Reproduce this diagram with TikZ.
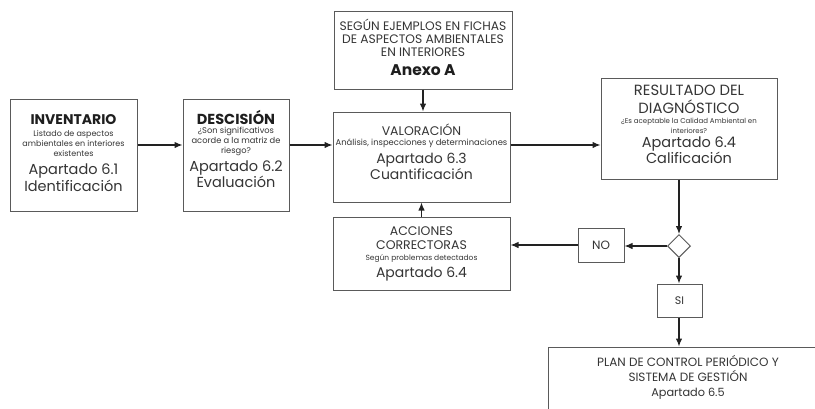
\documentclass[tikz,border=0pt]{standalone}
\usepackage{fontspec}
\setmainfont{Poppins}
\usetikzlibrary{arrows.meta,shapes.geometric}
\definecolor{boxc}{HTML}{5A5A5A}
\definecolor{txtc}{HTML}{353535}
\definecolor{ttlc}{HTML}{1E1E1E}
\definecolor{arrc}{HTML}{222222}
\newcommand{\fsz}[2]{\fontsize{#1}{#2}\selectfont}
\begin{document}
\begin{tikzpicture}[x=1pt,y=-1pt,
  box/.style={draw=boxc, line width=1pt, rectangle, inner sep=0pt},
  lbl/.style={text=txtc, align=center, inner sep=0pt, anchor=north},
  ttl/.style={lbl, text=ttlc},
  arr/.style={draw=arrc, line width=1.2pt, -{Latex[length=8pt,width=6.5pt]}}]
\useasboundingbox (0,0) rectangle (815,408);
\clip (0,0) rectangle (815,408);
\fill[white] (0,0) rectangle (815,408);

% boxes
\node[box, minimum width=127pt, minimum height=112pt] (inv) at (73.5,155) {};
\node[box, minimum width=106pt, minimum height=112pt] (dec) at (236,155) {};
\node[box, minimum width=178pt, minimum height=78pt] (seg) at (423,50) {};
\node[box, minimum width=177pt, minimum height=90pt] (val) at (421.5,157) {};
\node[box, minimum width=177pt, minimum height=73pt] (acc) at (421.5,253.5) {};
\node[box, minimum width=176pt, minimum height=101pt] (res) at (689,128.5) {};
\node[draw=boxc, line width=1pt, diamond, aspect=1, inner sep=0pt, minimum width=23pt, minimum height=23pt] (dia) at (679,246) {};
\node[box, minimum width=46pt, minimum height=34pt, text=txtc, font=\fsz{12}{14}] (no) at (601,245) {NO};
\node[box, minimum width=45pt, minimum height=33pt, text=txtc, font=\fsz{11}{13}] (si) at (679.5,300.5) {SI};
\node[box, minimum width=280pt, minimum height=100pt] (plan) at (688,397) {};

% texts: INVENTARIO
\node[ttl, font=\bfseries\fsz{14}{15}] (invt) at (73.5,114.5) {INVENTARIO};
\node[lbl, font=\fsz{8}{10}] (invs) at (73.5,130) {Listado de aspectos\\ambientales en interiores\\existentes};
\node[lbl, font=\fsz{14.5}{15}] (invb) at (73.5,164) {Apartado 6.1\\Identificación};

% DESCISION
\node[ttl, font=\bfseries\fsz{14.5}{15}] (dect) at (236,110) {DESCISIÓN};
\node[lbl, font=\fsz{8.3}{10}] (decs) at (236,127) {¿Son significativos\\acorde a la matriz de\\riesgo?};
\node[lbl, font=\fsz{14.5}{15}] (decb) at (236,160.5) {Apartado 6.2\\Evaluación};

% SEGUN
\node[lbl, font=\fsz{12.3}{13.3}] (segt) at (423,18.5) {SEGÚN EJEMPLOS EN FICHAS\\DE ASPECTOS AMBIENTALES\\EN INTERIORES};
\node[ttl, font=\bfseries\fsz{15.5}{17}] (segb) at (423,64.3) {Anexo A};

% VALORACION
\node[lbl, font=\fsz{12.5}{14}] (valt) at (421.5,124) {VALORACIÓN};
\node[lbl, font=\fsz{8.4}{9}] (vals) at (421.5,138.5) {Análisis, inspecciones y determinaciones};
\node[lbl, font=\fsz{14}{14}] (valb) at (421.5,153.3) {Apartado 6.3\\Cuantificación};

% ACCIONES
\node[lbl, font=\fsz{12.5}{14}] (acct) at (421.5,226) {ACCIONES\\CORRECTORAS};
\node[lbl, font=\fsz{7.5}{9}] (accs) at (421.5,254.5) {Según problemas detectados};
\node[lbl, font=\fsz{14}{14}] (accb) at (421.5,266.7) {Apartado 6.4};

% RESULTADO
\node[lbl, font=\fsz{14.8}{17.5}] (rest) at (689,85) {RESULTADO DEL\\DIAGNÓSTICO};
\node[lbl, font=\fsz{7}{9.5}] (ress) at (689,118) {¿Es aceptable la Calidad Ambiental en\\interiores?};
\node[lbl, font=\fsz{14.5}{16}] (resb) at (689,136.7) {Apartado 6.4\\Calificación};

% PLAN
\node[lbl, font=\fsz{12}{15.3}] (plant) at (688,355) {PLAN DE CONTROL PERIÓDICO Y\\SISTEMA DE GESTIÓN};
\node[lbl, font=\fsz{11.3}{14}] (planb) at (688,387.5) {Apartado 6.5};

% connectors
\draw[arr] ([yshift=10pt]inv.east) -- ([yshift=10pt]dec.west);
\draw[arr] ([yshift=10pt]dec.east) -- ([yshift=12pt]val.west);
\draw[arr] (seg.south) -- (seg.south |- val.north);
\draw[arr] (acc.north) -- (acc.north |- val.south);
\coordinate (vr) at ([yshift=12pt]val.east);
\draw[arr] (vr) -- (vr -| res.west);
\draw[arr] (res.south -| dia.north) -- (dia.north);
\draw[arr] (dia.west) -- (dia.west -| no.east);
\draw[arr] (no.west) -- (no.west -| acc.east);
\draw[arr] (dia.south) -- (dia.south |- si.north);
\draw[arr] (si.south -| dia.south) -- (dia.south |- plan.north);
\end{tikzpicture}
\end{document}
